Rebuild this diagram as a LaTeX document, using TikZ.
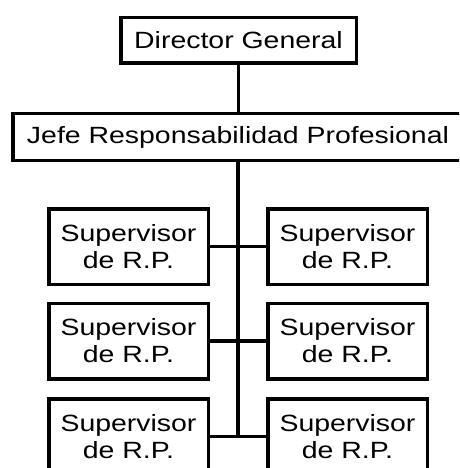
\documentclass[tikz,border=0pt]{standalone}
\usepackage{fontspec}
\setmainfont[FakeStretch=1.21]{Liberation Sans}
\begin{document}
\begin{tikzpicture}[x=1pt,y=-1pt,
  box/.style={draw=black, line width=3.5pt, fill=white, inner sep=0pt,
    align=center, font=\fontsize{23.5}{27}\selectfont},
  topbox/.style={box, minimum width=235.5pt, minimum height=45.5pt},
  headbox/.style={box, minimum width=450.5pt, minimum height=46.5pt},
  supbox/.style={box, minimum width=159.5pt, minimum height=75.5pt},
  link/.style={draw=black, line width=3.5pt}]
  \useasboundingbox (0,0) rectangle (459,468);
  \fill[white] (0,0) rectangle (459,468);
  \clip (0,0) rectangle (459,468);

  \node[topbox] (dir) at (238.5,40.5) {Director General};
  \node[headbox] (jefe) at (238,137) {Jefe Responsabilidad Profesional};

  \node[supbox] (l1) at (128.5,246.5) {Supervisor\\de R.P.};
  \node[supbox] (r1) at (347.5,246.5) {Supervisor\\de R.P.};
  \node[supbox] (l2) at (128.5,341) {Supervisor\\de R.P.};
  \node[supbox] (r2) at (347.5,341) {Supervisor\\de R.P.};
  \node[supbox] (l3) at (128.5,436.5) {Supervisor\\de R.P.};
  \node[supbox] (r3) at (347.5,436.5) {Supervisor\\de R.P.};

  \coordinate (spineEnd) at (jefe.south |- l3.east);

  \draw[link] (dir.south) -- (dir.south |- jefe.north);
  \draw[link] (jefe.south) -- ([yshift=-1.75pt]spineEnd);
  \draw[link] (l1.east) -- (r1.west);
  \draw[link] (l2.east) -- (r2.west);
  \draw[link] (l3.east) -- (r3.west);
\end{tikzpicture}
\end{document}
